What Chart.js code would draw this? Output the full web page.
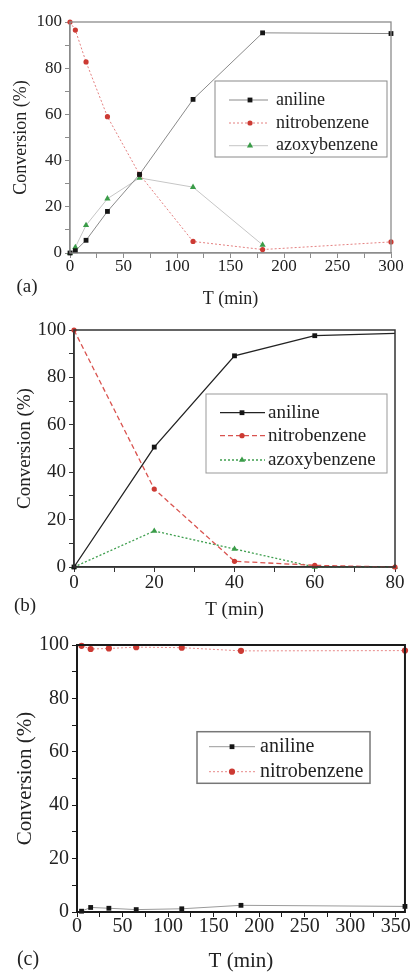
<!DOCTYPE html>
<html>
<head>
<meta charset="utf-8">
<script src="https://cdn.jsdelivr.net/npm/chart.js@4/dist/chart.umd.min.js"></script>
<style>
  html, body { margin: 0; padding: 0; background: #fff; }
  .panel { position: absolute; left: 0; width: 411px; }
</style>
</head>
<body>
<div class="panel" style="top:0;height:310px"><canvas id="chartA"></canvas></div>
<div class="panel" style="top:310px;height:320px"><canvas id="chartB"></canvas></div>
<div class="panel" style="top:630px;height:342px"><canvas id="chartC"></canvas></div>

<script>
// panel (a)
const timesA = [0, 5, 15, 35, 65, 115, 180, 300];
const anilineA = [0, 1, 5.5, 18, 34, 66.5, 95.3, 95];
const nitroA = [100, 96.5, 82.7, 59, 34, 5, 1.5, 4.8];
const azoxyA = [0, 2.5, 12, 23.5, 32.5, 28.5, 3.5, null];
const xLabelsA = [0, 50, 100, 150, 200, 250, 300];

// panel (b)
const timesB = [0, 20, 40, 60, 80];
const anilineB = [0, 50.6, 89.1, 97.6, 98.6];
const nitroB = [100, 32.9, 2.4, 0.7, 0];
const azoxyB = [0, 15.2, 7.6, 0, 0];
const xLabelsB = [0, 20, 40, 60, 80];

// panel (c)
const timesC = [5, 15, 35, 65, 115, 180, 360];
const anilineC = [0.3, 1.7, 1.4, 0.9, 1.2, 2.5, 2.1];
const nitroC = [99.7, 98.5, 98.7, 99.2, 99, 97.8, 97.9];
const xLabelsC = [0, 50, 100, 150, 200, 250, 300, 350];
// axis runs to 360 but the last tick mark is at 350
const xTicksC = [0, 25, 50, 75, 100, 125, 150, 175, 200, 225, 250, 275, 300, 325, 350];

const yLabels = [0, 20, 40, 60, 80, 100];

const FONT = '"Liberation Serif", "Times New Roman", serif';
const INK = '#222';

function pts(xs, ys) {
  return xs.map((x, i) => ({ x: x, y: ys[i] })).filter(p => p.y !== null);
}

// frame box, panel tag and the in-plot legend
const decor = {
  id: 'decor',
  afterDraw(chart, args, o) {
    const { ctx, chartArea: a } = chart;
    ctx.save();
    ctx.strokeStyle = o.frameColor;
    ctx.lineWidth = o.frameWidth;
    ctx.strokeRect(a.left, a.top, a.right - a.left, a.bottom - a.top);

    ctx.fillStyle = INK;
    ctx.font = o.tagFont;
    ctx.textAlign = 'center';
    ctx.textBaseline = 'middle';
    ctx.fillText(o.tag, o.tagX, o.tagY);

    const L = o.legend;
    ctx.strokeStyle = L.boxColor;
    ctx.lineWidth = L.boxWidth;
    ctx.strokeRect(L.x, L.y, L.w, L.h);
    chart.data.datasets.forEach((ds, i) => {
      const y = L.rows[i];
      ctx.strokeStyle = ds.borderColor;
      ctx.lineWidth = ds.borderWidth;
      ctx.setLineDash(ds.borderDash || []);
      ctx.beginPath();
      ctx.moveTo(L.lineX0, y);
      ctx.lineTo(L.lineX1, y);
      ctx.stroke();
      ctx.setLineDash([]);
      ctx.fillStyle = ds.pointBackgroundColor;
      ctx.strokeStyle = ds.pointBackgroundColor;
      const r = Array.isArray(ds.pointRadius) ? ds.pointRadius[0] : ds.pointRadius;
      Chart.helpers.drawPoint(ctx, { pointStyle: ds.pointStyle, radius: r, rotation: 0, borderWidth: 0 }, L.markX, y);
      ctx.fillStyle = INK;
      ctx.font = L.font;
      ctx.textAlign = 'left';
      ctx.textBaseline = 'middle';
      ctx.fillText(ds.label, L.textX, y);
    });
    ctx.restore();
  }
};

function series(label, data, line, mark) {
  return Object.assign({
    label: label,
    data: data,
    borderWidth: 1,
    tension: 0,
    fill: false,
    clip: false,
    pointBorderWidth: 0
  }, line, mark);
}

function makeChart(id, p) {
  return new Chart(document.getElementById(id), {
    type: 'line',
    data: { datasets: p.datasets },
    options: {
      responsive: true,
      maintainAspectRatio: false,
      animation: false,
      events: [],
      layout: { padding: { top: p.padTop, right: p.padRight, left: 0, bottom: 0 } },
      plugins: {
        legend: { display: false },
        tooltip: { enabled: false },
        decor: p.decor
      },
      scales: {
        x: {
          type: 'linear',
          min: p.xMin,
          max: p.xMax,
          afterBuildTicks: s => { if (p.xTicks) s.ticks = p.xTicks.map(v => ({ value: v })); },
          afterFit: s => { s.height = p.xHeight; },
          border: { color: p.decor.frameColor, width: p.decor.frameWidth },
          grid: { drawOnChartArea: false, tickLength: 5, tickColor: p.decor.frameColor },
          ticks: {
            stepSize: p.xStep,
            autoSkip: false,
            maxRotation: 0,
            padding: p.xTickPad,
            color: INK,
            font: { family: FONT, size: p.tickSize, lineHeight: 1 },
            callback: v => p.xLabels.includes(v) ? String(v) : ''
          },
          title: {
            display: true, text: 'T (min)', color: INK,
            font: { family: FONT, size: p.titleSize, lineHeight: 1 },
            padding: { top: 0, bottom: p.xTitlePad }
          }
        },
        y: {
          min: 0,
          max: 100,
          afterFit: s => { s.width = p.yWidth; },
          border: { color: p.decor.frameColor, width: p.decor.frameWidth },
          grid: { drawOnChartArea: false, tickLength: 5, tickColor: p.decor.frameColor },
          ticks: {
            stepSize: 10,
            autoSkip: false,
            padding: 3,
            color: INK,
            font: { family: FONT, size: p.tickSize, lineHeight: 1 },
            callback: v => yLabels.includes(v) ? String(v) : ''
          },
          title: {
            display: true, text: 'Conversion (%)', color: INK,
            font: { family: FONT, size: p.titleSize, lineHeight: 1 },
            padding: { top: p.yTitlePad, bottom: 0 }
          }
        }
      }
    },
    plugins: [decor]
  });
}

const square = c => ({ pointStyle: 'rect', pointRadius: 3.4, pointBackgroundColor: c, pointBorderColor: c });
const dot = (c, r) => ({ pointStyle: 'circle', pointRadius: r, pointBackgroundColor: c, pointBorderColor: c });
const tri = c => ({ pointStyle: 'triangle', pointRadius: 3.6, pointBackgroundColor: c, pointBorderColor: c });

makeChart('chartA', {
  datasets: [
    series('aniline', pts(timesA, anilineA), { borderColor: '#8a8a8a' }, square('#151515')),
    series('nitrobenzene', pts(timesA, nitroA), { borderColor: '#e48080', borderDash: [2, 2] }, dot('#cc3a33', 2.6)),
    series('azoxybenzene', pts(timesA, azoxyA), { borderColor: '#c6c6c6' }, tri('#3a9c48'))
  ],
  xMin: 0, xMax: 300, xStep: 25, xLabels: xLabelsA,
  padTop: 22, padRight: 20, yWidth: 70, xHeight: 57,
  tickSize: 17, titleSize: 18, xTickPad: 0, xTitlePad: 2, yTitlePad: 12.7,
  decor: {
    frameColor: '#8c8c8c', frameWidth: 1.3,
    tag: '(a)', tagFont: '19px ' + FONT, tagX: 27, tagY: 287,
    legend: {
      x: 215, y: 81, w: 172, h: 76, boxColor: '#8a8a8a', boxWidth: 1,
      rows: [100, 123, 145.7], lineX0: 229, lineX1: 268, markX: 250, textX: 276,
      font: '18px ' + FONT
    }
  }
});

makeChart('chartB', {
  datasets: [
    series('aniline', pts(timesB, anilineB), { borderColor: '#222', borderWidth: 1.3 },
      Object.assign(square('#151515'), { pointRadius: [3.4, 3.4, 3.4, 3.4, 0] })),
    series('nitrobenzene', pts(timesB, nitroB), { borderColor: '#d9534f', borderWidth: 1.3, borderDash: [5, 3] }, dot('#cc3a33', 2.6)),
    series('azoxybenzene', pts(timesB, azoxyB), { borderColor: '#3f9f4f', borderWidth: 1.3, borderDash: [2, 2] }, tri('#3a9c48'))
  ],
  xMin: 0, xMax: 80, xStep: 10, xLabels: xLabelsB,
  padTop: 20, padRight: 16, yWidth: 74, xHeight: 63,
  tickSize: 19, titleSize: 19, xTickPad: 1.5, xTitlePad: 10.5, yTitlePad: 15.5,
  decor: {
    frameColor: '#333', frameWidth: 1.5,
    tag: '(b)', tagFont: '19px ' + FONT, tagX: 25, tagY: 296,
    legend: {
      x: 206, y: 84, w: 181, h: 79, boxColor: '#999', boxWidth: 1,
      rows: [102.7, 125.7, 150], lineX0: 220, lineX1: 265, markX: 242, textX: 268,
      font: '19px ' + FONT
    }
  }
});

makeChart('chartC', {
  datasets: [
    series('aniline', pts(timesC, anilineC), { borderColor: '#9a9a9a' }, square('#151515')),
    series('nitrobenzene', pts(timesC, nitroC), { borderColor: '#e88a8a', borderDash: [2, 2] }, dot('#cc3a33', 3.1))
  ],
  xMin: 0, xMax: 360, xStep: 25, xLabels: xLabelsC, xTicks: xTicksC,
  padTop: 15, padRight: 5.3, yWidth: 77, xHeight: 60,
  tickSize: 20, titleSize: 21, xTickPad: 0, xTitlePad: 0, yTitlePad: 14.5,
  decor: {
    frameColor: '#1a1a1a', frameWidth: 2,
    tag: '(c)', tagFont: '20px ' + FONT, tagX: 28, tagY: 330,
    legend: {
      x: 197, y: 101.7, w: 173, h: 51.6, boxColor: '#777', boxWidth: 1.5,
      rows: [116.7, 141.7], lineX0: 209, lineX1: 255, markX: 232, textX: 260,
      font: '20px ' + FONT
    }
  }
});
</script>
</body>
</html>
